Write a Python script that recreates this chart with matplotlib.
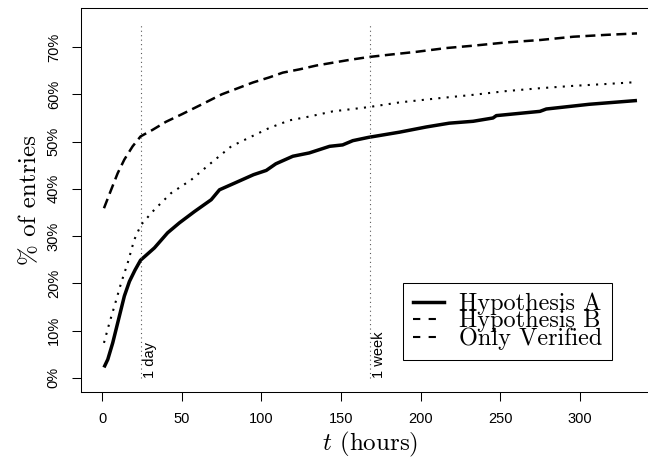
import matplotlib
matplotlib.use("Agg")
import matplotlib.pyplot as plt
from matplotlib.lines import Line2D
import matplotlib.transforms as mtransforms

# -----------------------------
# Data
# -----------------------------

hours_a = [1, 3.4, 6.5, 9.6, 13.8, 17, 20.5, 24, 32.7, 41, 48.4, 57.9, 68.4,
           73.6, 83, 95, 103, 109, 119.7, 130, 142.8, 151, 157.4, 167.3,
           186.8, 203.6, 218, 233, 245.5, 247.6, 275, 279, 306, 336]
pct_a = [2.2, 3.9, 7.4, 11.6, 17.3, 20.4, 22.8, 24.9, 27.5, 30.7, 32.8, 35.2,
         37.7, 39.8, 41.2, 43.0, 43.9, 45.3, 46.9, 47.6, 49.0, 49.3, 50.2,
         50.9, 52.0, 53.1, 53.9, 54.3, 55.0, 55.5, 56.4, 56.9, 57.9, 58.7]

hours_b = [1, 5.5, 9.6, 13.8, 19, 24, 31.6, 40, 50, 62, 75, 94.5, 105, 113.4,
           124, 134.4, 144.8, 155.3, 167.3, 180.5, 197.3, 216, 233, 254, 275,
           296, 317, 336]
pct_b = [35.9, 39.8, 43.3, 46.2, 49.0, 51.1, 52.5, 54.2, 55.8, 57.8, 60.0,
         62.5, 63.6, 64.6, 65.3, 66.1, 66.7, 67.3, 67.9, 68.4, 69.0, 69.8,
         70.3, 71.0, 71.5, 72.2, 72.6, 72.9]

hours_v = [1, 4.4, 7.5, 11.8, 15.9, 20, 24.3, 32.7, 43.2, 55.8, 68.4, 81,
           94.5, 105, 117.6, 130, 144.8, 167.3, 186.8, 212, 233, 254, 275,
           296, 317, 336]
pct_v = [7.4, 11.6, 15.1, 20.1, 24.3, 29.2, 32.4, 35.6, 39.1, 41.9, 45.5,
         49.0, 51.2, 52.9, 54.5, 55.3, 56.4, 57.3, 58.3, 59.2, 59.9, 60.7,
         61.3, 61.8, 62.2, 62.6]

marker_hours = [24, 168]
marker_labels = ["1 day", "1 week"]
marker_top = 75

x_ticks = [0, 50, 100, 150, 200, 250, 300]
y_ticks = [0, 10, 20, 30, 40, 50, 60, 70]
y_tick_labels = [f"{v}%" for v in y_ticks]

legend_labels = ["Hypothesis A", "Hypothesis B", "Only Verified"]

# -----------------------------
# Figure
# -----------------------------

plt.rcParams["mathtext.fontset"] = "cm"
serif = "cmr10"
sans = ["Liberation Sans", "DejaVu Sans"]

fig = plt.figure(figsize=(6.48, 4.65), dpi=100)
ax = fig.add_axes([0.125, 0.157, 0.891, 0.826])

ax.plot(hours_a, pct_a, color="black", lw=2.5, solid_capstyle="butt")
ax.plot(hours_b, pct_b, color="black", lw=1.8, dashes=(4, 2.2))
ax.plot(hours_v, pct_v, color="black", lw=1.5, dashes=(1, 3))

# reference lines at 1 day / 1 week
offset = mtransforms.offset_copy(ax.transData, fig=fig, x=2, y=0, units="dots")
for h, lab in zip(marker_hours, marker_labels):
    ax.plot([h, h], [0, marker_top], color="0.35", lw=0.8, dashes=(1, 3))
    ax.text(h, 0, lab, rotation=90, ha="left", va="bottom",
            fontsize=10.5, family=sans, transform=offset)

ax.set_xlim(-13.44, 349.44)
ax.set_ylim(-3.0, 78.3)

ax.set_xticks(x_ticks)
ax.set_yticks(y_ticks)
ax.set_yticklabels(y_tick_labels, rotation=90, va="center")
for lab in ax.get_xticklabels() + ax.get_yticklabels():
    lab.set_family(sans)
    lab.set_fontsize(10.5)
ax.tick_params(direction="out", length=6.5, width=0.75, pad=8)

for s in ax.spines.values():
    s.set_linewidth(0.75)

ax.set_xlabel(r"$t$ (hours)", family=serif, fontsize=18, labelpad=3)
ax.set_ylabel(r"% of entries", family=serif, fontsize=18, labelpad=4)

handles = [
    Line2D([], [], color="black", lw=2.5),
    Line2D([], [], color="black", lw=1.5, dashes=(3.5, 4)),
    Line2D([], [], color="black", lw=1.5, dashes=(3.5, 4)),
]
leg = ax.legend(handles, legend_labels, loc="upper left",
                bbox_to_anchor=(403 / 648, 1 - 283 / 465),
                bbox_transform=fig.transFigure, borderaxespad=0,
                prop={"family": serif, "size": 17.5},
                fancybox=False, framealpha=1, edgecolor="black",
                handlelength=1.28, handletextpad=0.62, borderpad=0.4,
                labelspacing=-0.2)
leg.get_frame().set_linewidth(0.75)

fig.savefig("out.png", dpi=100)
